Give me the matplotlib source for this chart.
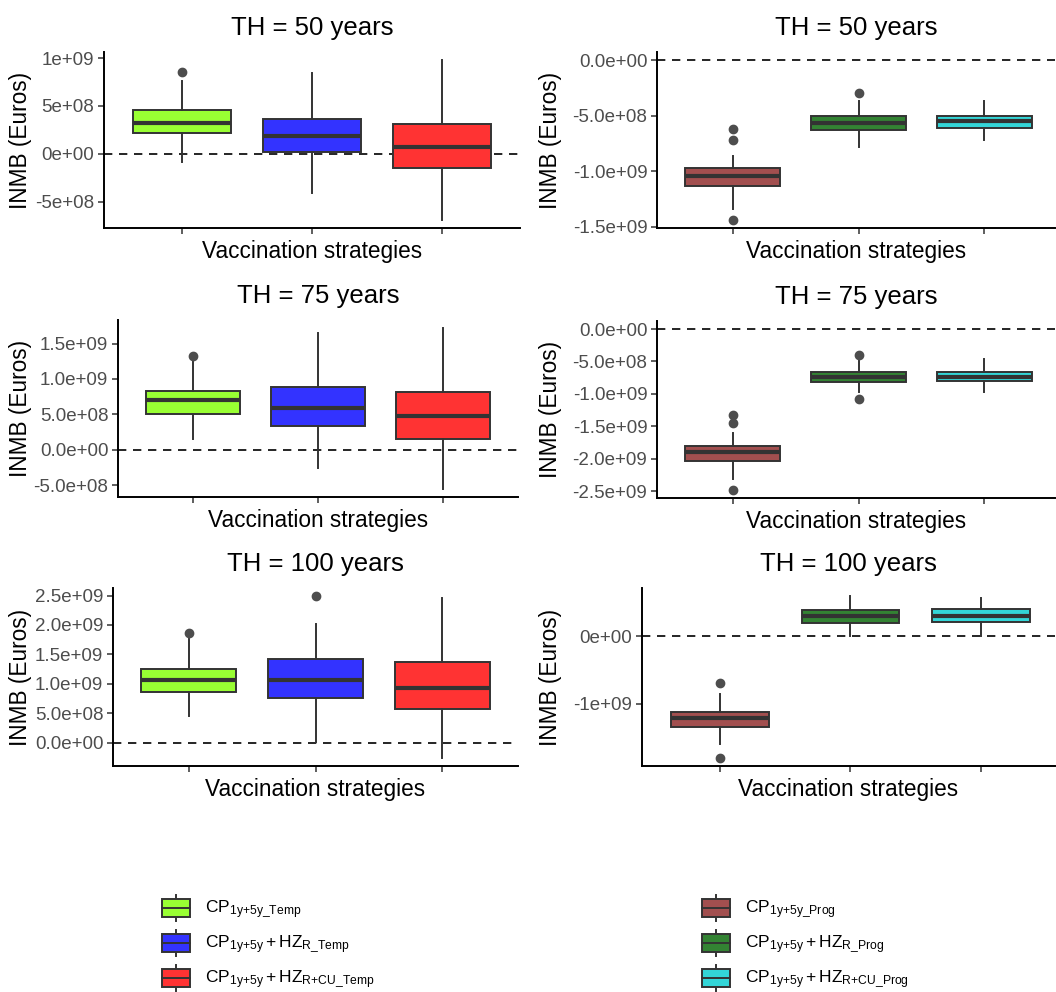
import matplotlib
matplotlib.use("Agg")
import matplotlib.pyplot as plt
from matplotlib.patches import Rectangle

plt.rcParams["font.family"] = ["Liberation Sans", "DejaVu Sans"]
plt.rcParams["mathtext.fontset"] = "custom"
plt.rcParams["mathtext.rm"] = "Liberation Sans"
plt.rcParams["mathtext.it"] = "Liberation Sans:italic"
plt.rcParams["mathtext.bf"] = "Liberation Sans:bold"

# ---------------------------------------------------------------- data
titles = ["TH = 50 years", "TH = 75 years", "TH = 100 years"]

# Temporary-immunity scenario (left column); per horizon: 3 strategies
temp_q1 = [[2.22e8, 0.24e8, -1.49e8], [5.03e8, 3.37e8, 1.57e8], [8.63e8, 7.53e8, 5.70e8]]
temp_med = [[3.26e8, 1.90e8, 0.70e8], [7.02e8, 5.93e8, 4.74e8], [10.74e8, 10.74e8, 9.30e8]]
temp_q3 = [[4.58e8, 3.68e8, 3.12e8], [8.30e8, 8.83e8, 8.16e8], [12.45e8, 14.20e8, 13.65e8]]
temp_lo = [[-0.87e8, -4.03e8, -6.90e8], [1.57e8, -2.60e8, -5.55e8], [4.57e8, 0.10e8, -2.57e8]]
temp_hi = [[7.60e8, 8.40e8, 9.80e8], [12.50e8, 16.50e8, 17.20e8], [17.70e8, 20.10e8, 24.50e8]]
temp_out = [[[8.50e8], [], []], [[13.20e8], [], []], [[18.70e8], [24.90e8], []]]

# Progressive-immunity scenario (right column)
prog_q1 = [[-11.38e8, -6.30e8, -6.13e8], [-20.40e8, -8.15e8, -8.05e8], [-13.40e8, 1.90e8, 2.09e8]]
prog_med = [[-10.42e8, -5.66e8, -5.50e8], [-19.00e8, -7.40e8, -7.34e8], [-12.10e8, 2.99e8, 2.99e8]]
prog_q3 = [[-9.73e8, -5.03e8, -5.00e8], [-18.10e8, -6.60e8, -6.60e8], [-11.20e8, 3.84e8, 3.98e8]]
prog_lo = [[-13.40e8, -7.86e8, -7.20e8], [-23.10e8, -9.65e8, -9.65e8], [-16.06e8, 0.10e8, 0.10e8]]
prog_hi = [[-8.63e8, -3.72e8, -3.70e8], [-16.00e8, -4.77e8, -4.68e8], [-8.60e8, 5.97e8, 5.73e8]]
prog_out = [[[-6.25e8, -7.20e8, -14.40e8], [-2.95e8], []],
            [[-13.20e8, -14.50e8, -24.80e8], [-3.95e8, -10.80e8], []],
            [[-6.87e8, -18.06e8], [], []]]

temp_ticks = [[-5e8, 0, 5e8, 1e9],
              [-5e8, 0, 5e8, 1e9, 1.5e9],
              [0, 5e8, 1e9, 1.5e9, 2e9, 2.5e9]]
temp_ticklabels = [["-5e+08", "0e+00", "5e+08", "1e+09"],
                   ["-5.0e+08", "0.0e+00", "5.0e+08", "1.0e+09", "1.5e+09"],
                   ["0.0e+00", "5.0e+08", "1.0e+09", "1.5e+09", "2.0e+09", "2.5e+09"]]
prog_ticks = [[-1.5e9, -1e9, -5e8, 0],
              [-2.5e9, -2e9, -1.5e9, -1e9, -5e8, 0],
              [-1e9, 0]]
prog_ticklabels = [["-1.5e+09", "-1.0e+09", "-5.0e+08", "0.0e+00"],
                   ["-2.5e+09", "-2.0e+09", "-1.5e+09", "-1.0e+09", "-5.0e+08", "0.0e+00"],
                   ["-1e+09", "0e+00"]]

temp_colors = ["#99FF33", "#3333FF", "#FF3333"]
prog_colors = ["#A24F4F", "#338333", "#33D6D8"]

temp_labels = [r"$\mathrm{CP}_{\mathrm{1y{+}5y\_Temp}}$",
               r"$\mathrm{CP}_{\mathrm{1y{+}5y}} + \mathrm{HZ}_{\mathrm{R\_Temp}}$",
               r"$\mathrm{CP}_{\mathrm{1y{+}5y}} + \mathrm{HZ}_{\mathrm{R{+}CU\_Temp}}$"]
prog_labels = [r"$\mathrm{CP}_{\mathrm{1y{+}5y\_Prog}}$",
               r"$\mathrm{CP}_{\mathrm{1y{+}5y}} + \mathrm{HZ}_{\mathrm{R\_Prog}}$",
               r"$\mathrm{CP}_{\mathrm{1y{+}5y}} + \mathrm{HZ}_{\mathrm{R{+}CU\_Prog}}$"]

# ---------------------------------------------------------------- layout
W, H = 1056, 992
fig = plt.figure(figsize=(W / 100, H / 100), dpi=100)

# panel boxes in pixels: (left, top, right, bottom, x_max)
panels_left = [(104, 52, 520, 228, 3.6), (118, 320, 518, 497, 3.6), (113, 588, 518, 766, 3.6)]
panels_right = [(657, 52, 1055, 228, 3.56), (657, 321, 1055, 498, 3.56), (642, 588, 1055, 766, 3.57)]

INK = "#333333"


def make_axes(box):
    l, t, r, b, _ = box
    return fig.add_axes([l / W, 1 - b / H, (r - l) / W, (b - t) / H])


def draw_panel(ax, box, q1, med, q3, lo, hi, out, colors, ticks, ticklabels, title):
    stats = []
    for i in range(3):
        stats.append(dict(q1=q1[i], med=med[i], q3=q3[i], whislo=lo[i], whishi=hi[i],
                          fliers=out[i]))
    ax.axhline(0, color="black", lw=1.2, ls=(0, (5, 4)), zorder=1)
    bp = ax.bxp(stats, positions=[1, 2, 3], widths=0.75, patch_artist=True,
                showcaps=False, manage_ticks=False,
                boxprops=dict(edgecolor=INK, linewidth=1.4),
                whiskerprops=dict(color=INK, linewidth=1.4),
                medianprops=dict(color=INK, linewidth=3.0, solid_capstyle="butt"),
                flierprops=dict(marker="o", markerfacecolor="#4D4D4D",
                                markeredgecolor="#4D4D4D", markersize=6))
    for patch, c in zip(bp["boxes"], colors):
        patch.set_facecolor(c)
        patch.set_zorder(2)

    allv = lo + hi + [0] + [v for o in out for v in o]
    vmin, vmax = min(allv), max(allv)
    pad = 0.05 * (vmax - vmin)
    ax.set_ylim(vmin - pad, vmax + pad)
    ax.set_xlim(0.4, box[4])

    ax.set_xticks([1, 2, 3])
    ax.set_xticklabels([])
    ax.set_yticks(ticks)
    ax.set_yticklabels(ticklabels)
    ax.tick_params(axis="both", direction="out", length=4, width=1.1, color=INK,
                   labelsize=13.5, labelcolor="#4D4D4D", pad=3)
    for s in ("top", "right"):
        ax.spines[s].set_visible(False)
    for s in ("left", "bottom"):
        ax.spines[s].set_linewidth(1.4)
        ax.spines[s].set_color("black")
    ax.set_title(title, fontsize=18.5, pad=12)

    hpx = box[3] - box[1]
    wpx = box[2] - box[0]
    ax.set_xlabel("Vaccination strategies", fontsize=16.3)
    ax.xaxis.set_label_coords(0.5, -12 / hpx)
    ax.xaxis.label.set_va("top")
    ax.set_ylabel("INMB (Euros)", fontsize=16.3)
    return wpx


for r in range(3):
    axl = make_axes(panels_left[r])
    wl = draw_panel(axl, panels_left[r], temp_q1[r], temp_med[r], temp_q3[r], temp_lo[r],
                    temp_hi[r], temp_out[r], temp_colors, temp_ticks[r], temp_ticklabels[r],
                    titles[r])
    axl.yaxis.set_label_coords((21 - panels_left[r][0]) / wl, 0.5)
    axl.yaxis.label.set_va("center")

    axr = make_axes(panels_right[r])
    wr = draw_panel(axr, panels_right[r], prog_q1[r], prog_med[r], prog_q3[r], prog_lo[r],
                    prog_hi[r], prog_out[r], prog_colors, prog_ticks[r], prog_ticklabels[r],
                    titles[r])
    axr.yaxis.set_label_coords((550 - panels_right[r][0]) / wr, 0.5)
    axr.yaxis.label.set_va("center")


# ---------------------------------------------------------------- legends
def draw_legend(x0, labels, colors):
    lg = fig.add_axes([0, 0, 1, 1], zorder=5)
    lg.set_xlim(0, W)
    lg.set_ylim(H, 0)
    lg.axis("off")
    rows = [908, 943, 978]
    for y, lab, c in zip(rows, labels, colors):
        lg.plot([x0 + 14, x0 + 14], [y - 13, y + 13], color=INK, lw=1.4, zorder=1)
        lg.add_patch(Rectangle((x0, y - 9), 28, 18, facecolor=c, edgecolor=INK,
                               linewidth=1.4, zorder=2))
        lg.plot([x0, x0 + 28], [y, y], color=INK, lw=1.4, zorder=3)
        lg.text(x0 + 43, y + 1, lab, fontsize=12.5, va="center", ha="left")


draw_legend(162, temp_labels, temp_colors)
draw_legend(702, prog_labels, prog_colors)

fig.savefig("out.png", dpi=100)
